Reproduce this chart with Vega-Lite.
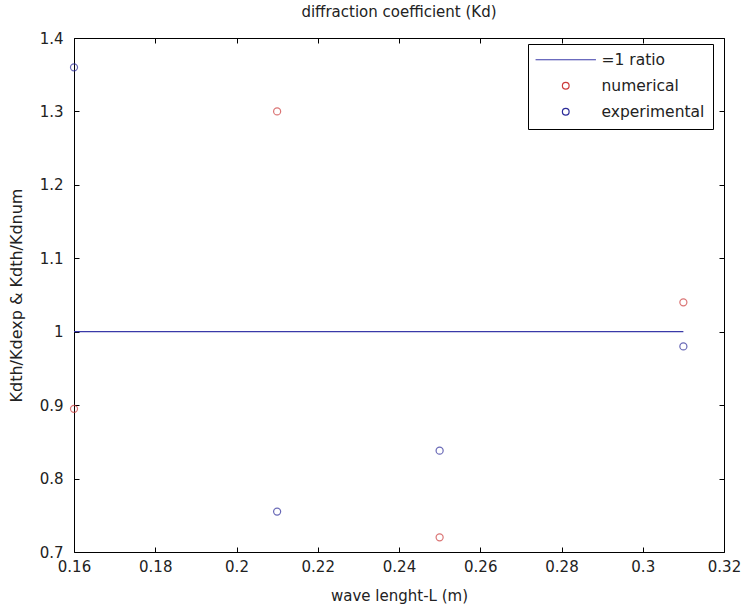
{
  "$schema": "https://vega.github.io/schema/vega-lite/v6.json",
  "autosize": "none",
  "padding": {"left": 74, "top": 38, "right": 22, "bottom": 58},
  "width": 650,
  "height": 514,
  "background": "white",
  "title": {"text": "diffraction coefficient (Kd)", "fontSize": 15, "fontWeight": "normal", "font": "DejaVu Sans", "color": "#222", "offset": 11},
  "config": {
    "view": {"stroke": null},
    "axis": {"grid": false, "domainColor": "black", "tickColor": "black", "labelFont": "DejaVu Sans", "titleFont": "DejaVu Sans", "labelFontSize": 15, "titleFontSize": 15, "labelColor": "#222", "titleColor": "#222", "titleFontWeight": "normal", "tickSize": -5, "labelFlush": false, "format": "~g"}
  },
  "data": {"values": [
    {"series": "=1 ratio", "L": 0.16, "ratio": 1.0},
    {"series": "=1 ratio", "L": 0.31, "ratio": 1.0},
    {"series": "numerical", "L": 0.16, "ratio": 0.895},
    {"series": "numerical", "L": 0.21, "ratio": 1.30},
    {"series": "numerical", "L": 0.25, "ratio": 0.72},
    {"series": "numerical", "L": 0.31, "ratio": 1.04},
    {"series": "experimental", "L": 0.16, "ratio": 1.36},
    {"series": "experimental", "L": 0.21, "ratio": 0.755},
    {"series": "experimental", "L": 0.25, "ratio": 0.838},
    {"series": "experimental", "L": 0.31, "ratio": 0.98}
  ]},
  "resolve": {"axis": {"x": "independent", "y": "independent"}},
  "layer": [
    {
      "transform": [{"filter": "datum.series === '=1 ratio'"}],
      "mark": {"type": "line", "strokeWidth": 1.3, "stroke": "#3a3aa8"},
      "encoding": {
        "x": {"field": "L", "type": "quantitative", "scale": {"domain": [0.16, 0.32], "nice": false, "zero": false}, "axis": {"title": "wave lenght-L (m)", "values": [0.16, 0.18, 0.2, 0.22, 0.24, 0.26, 0.28, 0.3, 0.32], "labelPadding": 12, "titlePadding": 14}},
        "y": {"field": "ratio", "type": "quantitative", "scale": {"domain": [0.7, 1.4], "nice": false, "zero": false}, "axis": {"title": "Kdth/Kdexp & Kdth/Kdnum", "titleFontSize": 16, "values": [0.7, 0.8, 0.9, 1.0, 1.1, 1.2, 1.3, 1.4], "labelPadding": 16, "titlePadding": 15}}
      }
    },
    {
      "transform": [{"filter": "datum.series !== '=1 ratio'"}],
      "mark": {"type": "point", "filled": false, "size": 50, "strokeWidth": 1.2},
      "encoding": {
        "x": {"field": "L", "type": "quantitative", "axis": {"orient": "top", "labels": false, "title": null, "values": [0.16, 0.18, 0.2, 0.22, 0.24, 0.26, 0.28, 0.3, 0.32]}},
        "y": {"field": "ratio", "type": "quantitative", "axis": {"orient": "right", "labels": false, "title": null, "values": [0.7, 0.8, 0.9, 1.0, 1.1, 1.2, 1.3, 1.4]}},
        "color": {"field": "series", "type": "nominal", "scale": {"domain": ["numerical", "experimental"], "range": ["#cc3b3b", "#2b2b99"]}, "legend": null}
      }
    },
    {
      "mark": {"type": "point", "filled": false, "size": 45, "strokeWidth": 1.2, "strokeOpacity": 0},
      "encoding": {
        "x": {"field": "L", "type": "quantitative", "axis": null},
        "y": {"field": "ratio", "type": "quantitative", "axis": null},
        "shape": {"field": "series", "type": "nominal", "scale": {"domain": ["=1 ratio", "numerical", "experimental"], "range": ["M-9,0L9,0", "circle", "circle"]},
          "legend": {"title": null, "orient": "none", "legendX": 454, "legendY": 6, "strokeColor": "black", "fillColor": "white", "padding": 8, "labelFont": "DejaVu Sans", "labelFontSize": 15.5, "labelColor": "#222", "symbolStrokeWidth": 1.2, "symbolSize": 45, "symbolOpacity": 1, "symbolFillColor": "transparent", "rowPadding": 9, "symbolOffset": 22, "labelOffset": 28,
            "encode": {"labels": {"update": {"fontSize": {"signal": "datum.value === '=1 ratio' ? 18 : 15.5"}}}}}},
        "stroke": {"field": "series", "type": "nominal", "scale": {"domain": ["=1 ratio", "numerical", "experimental"], "range": ["#3a3aa8", "#cc3b3b", "#2b2b99"]}}
      }
    }
  ]
}
